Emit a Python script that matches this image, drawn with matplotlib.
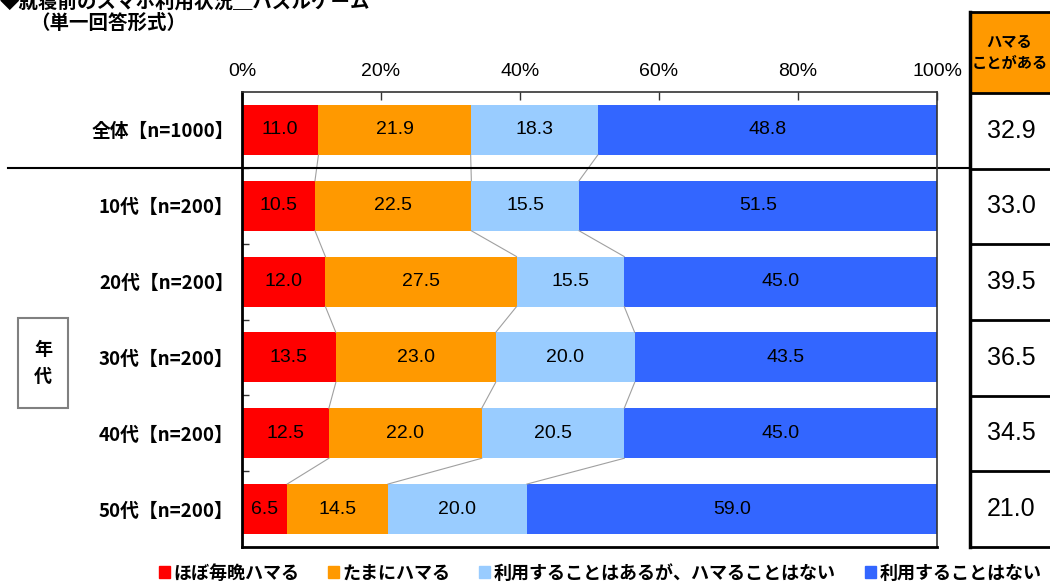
import matplotlib.pyplot as plt
import matplotlib.patches as mpatches
import matplotlib.transforms as mtransforms
import numpy as np

plt.rcParams['font.family'] = ['Noto Sans CJK JP', 'DejaVu Sans']

# データ
categories = ['全体【n=1000】', '10代【n=200】', '20代【n=200】',
              '30代【n=200】', '40代【n=200】', '50代【n=200】']
series_names = ['ほぼ毎晩ハマる', 'たまにハマる',
                '利用することはあるが、ハマることはない', '利用することはない']
every_night = [11.0, 10.5, 12.0, 13.5, 12.5, 6.5]
sometimes = [21.9, 22.5, 27.5, 23.0, 22.0, 14.5]
use_no_hook = [18.3, 15.5, 15.5, 20.0, 20.5, 20.0]
never_use = [48.8, 51.5, 45.0, 43.5, 45.0, 59.0]
hamaru_total = [32.9, 33.0, 39.5, 36.5, 34.5, 21.0]
colors = ['#FF0000', '#FF9900', '#99CCFF', '#3366FF']
xticks = [0, 20, 40, 60, 80, 100]

W, H = 1050, 583
fig = plt.figure(figsize=(10.5, 5.83), dpi=100)
ax = fig.add_axes([242 / W, 1 - 547 / H, 695 / W, 455 / H])

data = np.array([every_night, sometimes, use_no_hook, never_use])
y = np.arange(len(categories))
h = 0.66
left = np.zeros(len(categories))
for vals, c in zip(data, colors):
    ax.barh(y, vals, left=left, height=h, color=c, edgecolor='none')
    for yi, (l, v) in enumerate(zip(left, vals)):
        ax.text(l + v / 2, yi, f'{v:.1f}', ha='center', va='center',
                fontsize=14, color='black', family='Liberation Sans')
    left = left + vals

# 系列間の区分線
cum = np.cumsum(data, axis=0)[:3]
for b in cum:
    for i in range(len(categories) - 1):
        ax.plot([b[i], b[i + 1]], [i + h / 2, i + 1 - h / 2],
                color='#A0A0A0', lw=0.8, zorder=1)

ax.set_xlim(0, 100)
ax.set_ylim(len(categories) - 0.5, -0.5)
ax.xaxis.tick_top()
ax.set_xticks(xticks)
ax.set_xticklabels([f'{t}%' for t in xticks], fontsize=14,
                   family='Liberation Sans')
ax.tick_params(axis='x', direction='in', length=6, width=1, pad=9,
               color='#333333')
ax.set_yticks(y)
ax.set_yticklabels(categories, fontsize=13.5, fontweight='bold')
ax.tick_params(axis='y', which='major', length=0, pad=6)
ax.set_yticks(np.arange(len(categories) - 1) + 0.5, minor=True)
ax.tick_params(axis='y', which='minor', direction='in', length=5,
               width=1, color='#333333')
for s in ['top', 'right']:
    ax.spines[s].set_linewidth(1.2)
    ax.spines[s].set_color('#333333')
for s in ['left', 'bottom']:
    ax.spines[s].set_linewidth(2)

# 全体と年代の区切り線
tr = mtransforms.blended_transform_factory(fig.transFigure, ax.transData)
ax.plot([8 / W, 968 / W], [0.5, 0.5], transform=tr, color='black',
        lw=1.5, clip_on=False)

# 年代の枠
fig.patches.append(mpatches.Rectangle((18 / W, 1 - 408 / H), 50 / W, 90 / H,
                                      transform=fig.transFigure, fill=False,
                                      edgecolor='#808080', lw=1.5))
fig.text(43 / W, 1 - 363 / H, '年\n代', ha='center', va='center',
         fontsize=13, fontweight='bold', linespacing=1.5)

# 右側の「ハマることがある」表
tab = fig.add_axes([970 / W, 1 - 547 / H, 90 / W, 535 / H])
top = -0.5 - 81 / 75.8
tab.set_xlim(0, 1)
tab.set_ylim(len(categories) - 0.5, top)
tab.axis('off')
tab.add_patch(mpatches.Rectangle((0, top), 1, -0.5 - top,
                                 facecolor='#FF9900', edgecolor='none'))
tab.text(0.44, (top - 0.5) / 2, 'ハマる\nことがある', ha='center', va='center',
         fontsize=11, fontweight='bold', linespacing=1.4)
for yi, v in enumerate(hamaru_total):
    tab.text(0.46, yi, f'{v:.1f}', ha='center', va='center',
             fontsize=18, family='Liberation Sans')
for b in np.arange(-0.5, len(categories)):
    tab.plot([0, 1], [b, b], color='black', lw=2, clip_on=False)
tab.plot([0, 1], [top, top], color='black', lw=2, clip_on=False)
tab.plot([0, 0], [top, len(categories) - 0.5], color='black', lw=2.5,
         clip_on=False)
tab.plot([1, 1], [top, len(categories) - 0.5], color='black', lw=2.5,
         clip_on=False)

# タイトル
fig.text(0 / W, 1 - 2 / H, '◆就寝前のスマホ利用状況＿パズルゲーム',
         ha='left', va='center', fontsize=14, fontweight='bold')
fig.text(30 / W, 1 - 23 / H, '（単一回答形式）', ha='left', va='center',
         fontsize=14, fontweight='bold')

# 凡例
handles = [mpatches.Patch(color=c, label=n) for c, n in zip(colors, series_names)]
fig.legend(handles=handles, loc='center', bbox_to_anchor=(600 / W, 1 - 573 / H),
           ncol=4, frameon=False, handlelength=0.6, handleheight=0.6,
           handletextpad=0.2, columnspacing=1.6,
           prop={'size': 13, 'weight': 'bold'})

fig.savefig('out.png', dpi=100)
